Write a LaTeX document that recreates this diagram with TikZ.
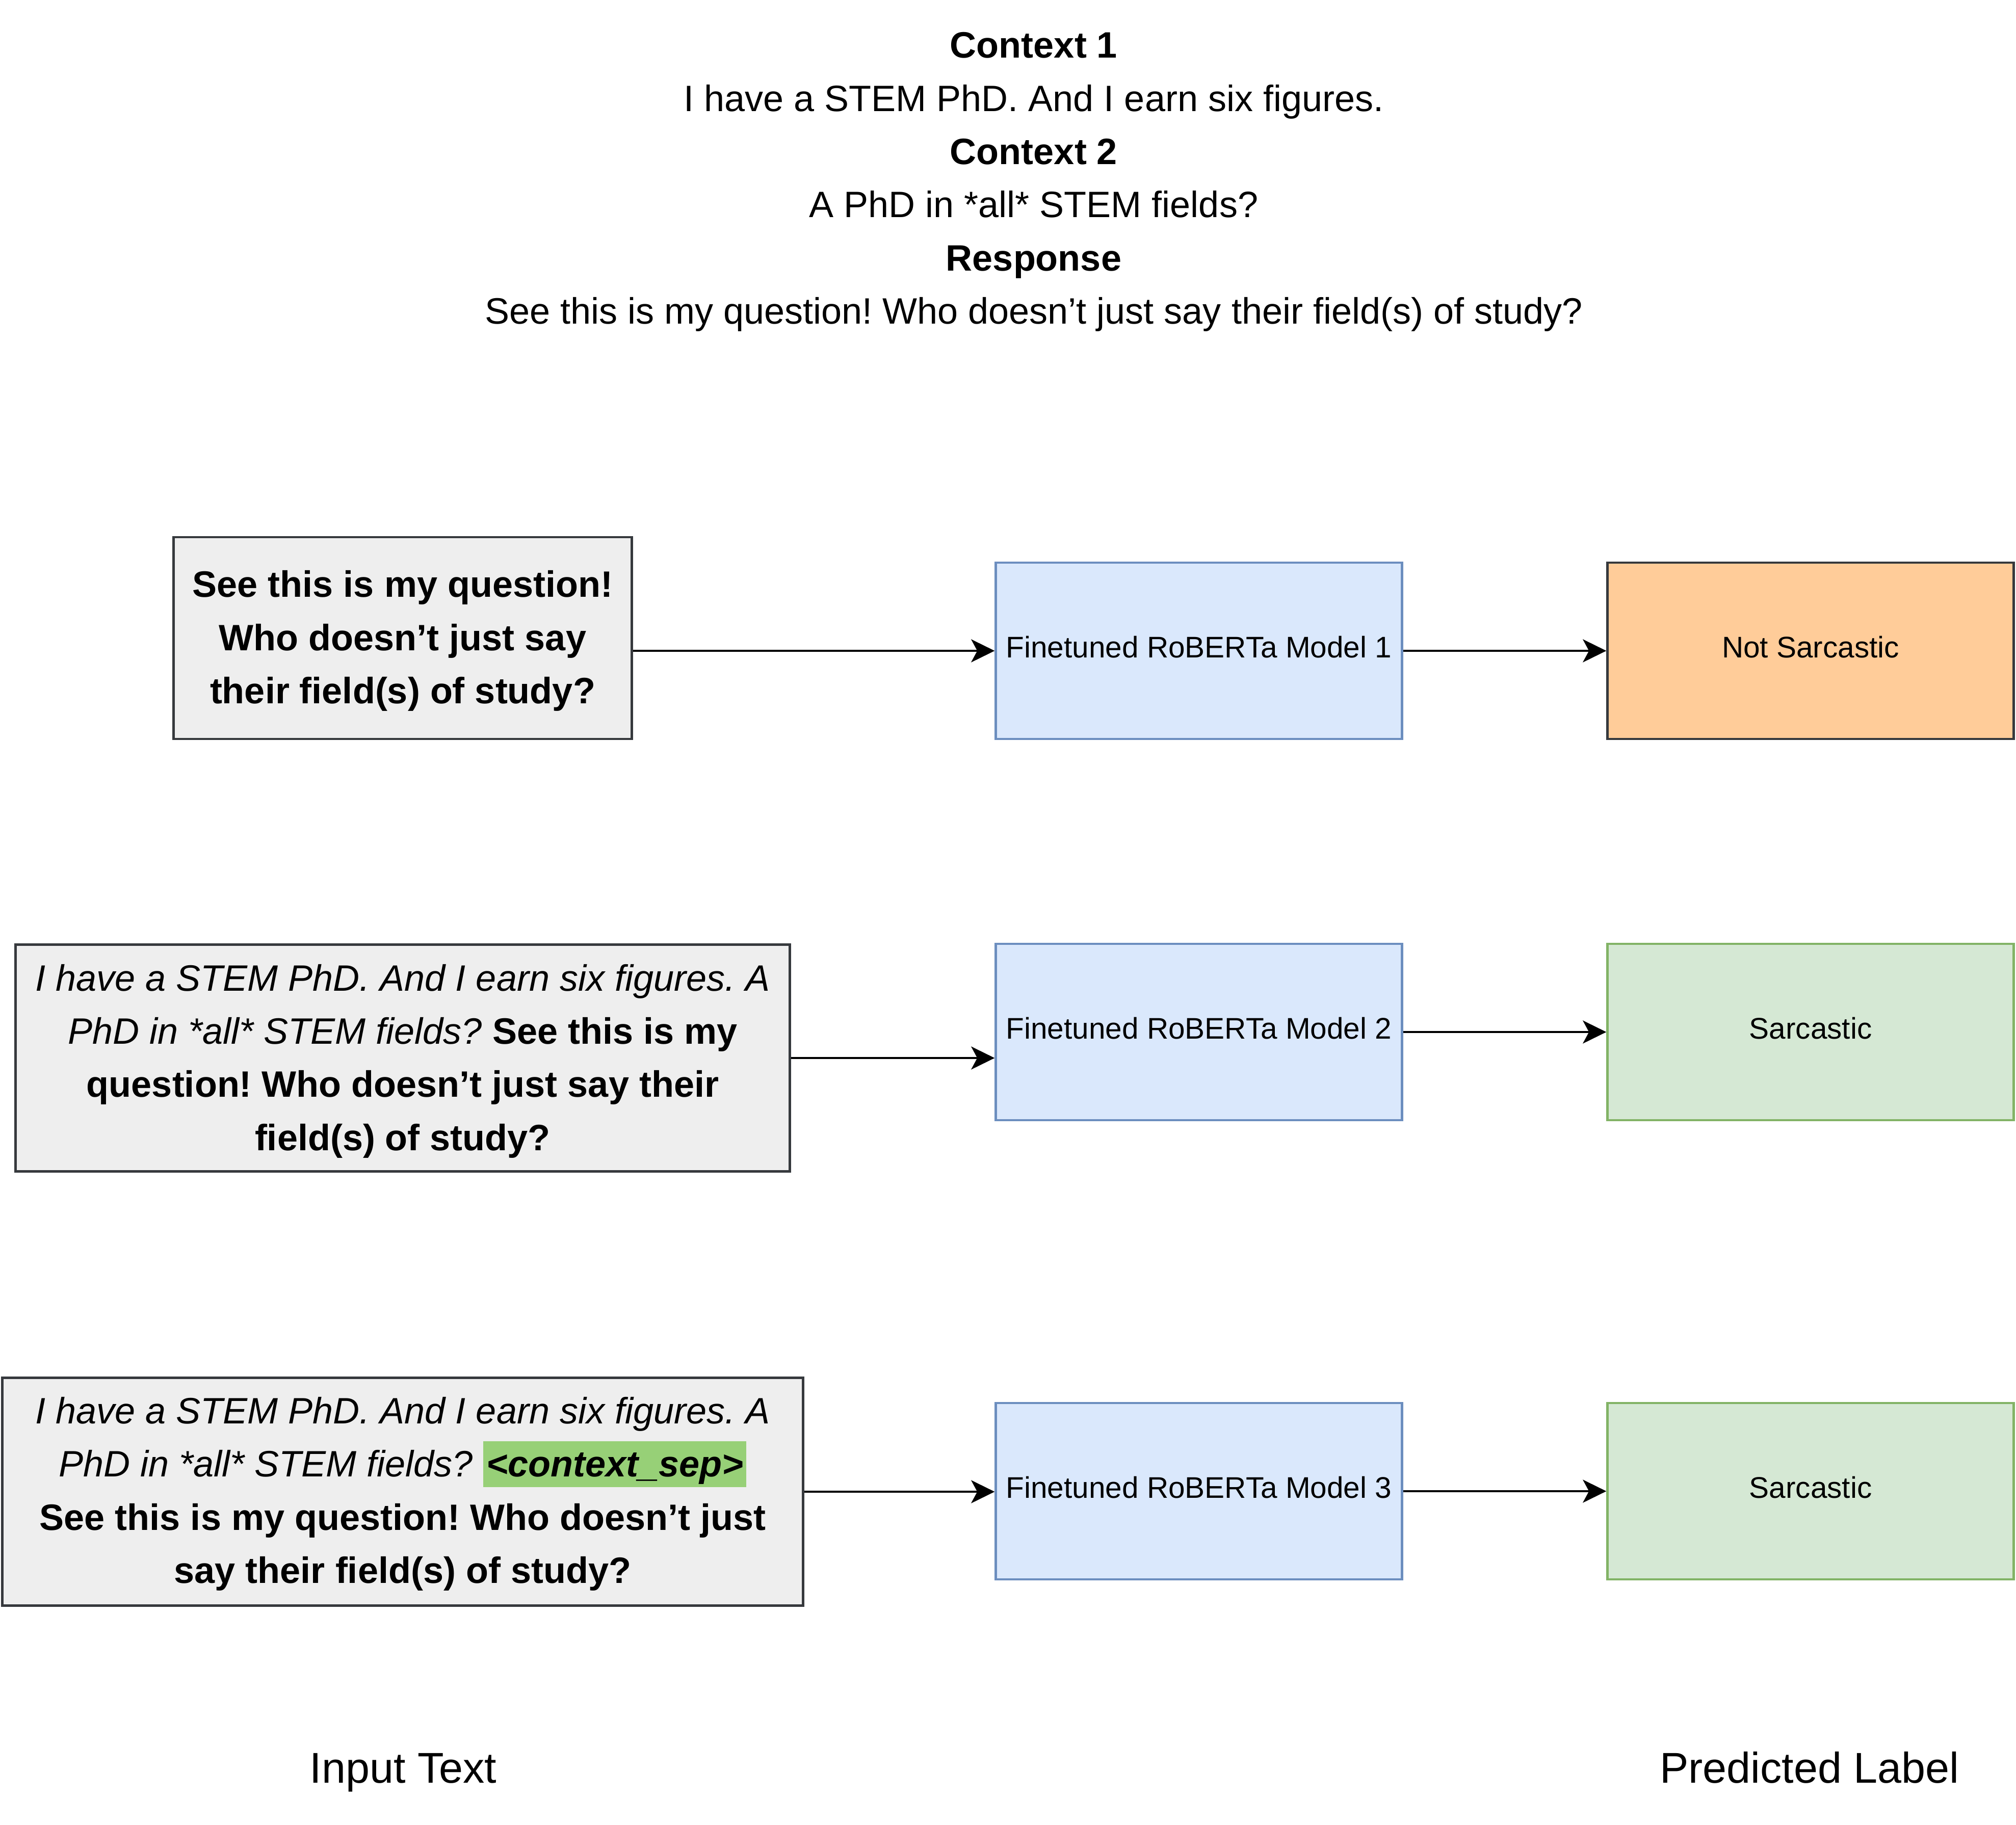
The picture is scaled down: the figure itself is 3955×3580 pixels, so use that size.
\documentclass[tikz,border=0pt]{standalone}
\usepackage{fontspec}
\setmainfont{Liberation Sans}
\usetikzlibrary{arrows.meta}
\frenchspacing
\definecolor{inbg}{HTML}{EEEEEE}
\definecolor{inline}{HTML}{36393D}
\definecolor{modbg}{HTML}{DAE8FC}
\definecolor{modline}{HTML}{6C8EBF}
\definecolor{notbg}{HTML}{FFCC99}
\definecolor{sarbg}{HTML}{D5E8D4}
\definecolor{sarline}{HTML}{82B366}
\definecolor{hl}{HTML}{97D077}
\newcommand{\hlsep}[1]{{\setlength{\fboxsep}{0pt}\colorbox{hl}{\rule[-20pt]{0pt}{90pt}\hspace{6pt}#1\hspace{6pt}}}}
\begin{document}
\begin{tikzpicture}[x=1pt,y=-1pt,
  inbox/.style={draw=inline, fill=inbg, line width=4.5pt, align=center, inner sep=0pt,
    font=\fontsize{72}{104.3}\selectfont\frenchspacing},
  modbox/.style={draw=modline, fill=modbg, line width=4.5pt, inner sep=0pt, text depth=16pt,
    minimum width=797pt, minimum height=346pt, font=\fontsize{58.5}{70}\selectfont},
  notbox/.style={draw=inline, fill=notbg, line width=4.5pt, inner sep=0pt, text depth=16pt,
    minimum width=797pt, minimum height=346pt, font=\fontsize{58.5}{70}\selectfont},
  sarbox/.style={draw=sarline, fill=sarbg, line width=4.5pt, inner sep=0pt, text depth=16pt,
    minimum width=797pt, minimum height=346pt, font=\fontsize{58.5}{70}\selectfont},
  conn/.style={line width=4.5pt, -{Stealth[length=46pt,width=45pt,inset=12pt]}},
  biglabel/.style={font=\fontsize{84.5}{100}\selectfont, inner sep=0pt, anchor=base}
]
\useasboundingbox (0,0) rectangle (3955,3580);

% title block
\node[align=center, inner sep=0pt, font=\fontsize{72}{104.4}\selectfont\frenchspacing] (title) at (2028,357)
  {\textbf{Context 1}\\
   I have a STEM PhD. And I earn six figures.\\
   \textbf{Context 2}\\
   A PhD in *all* STEM fields?\\
   \textbf{Response}\\
   See this is my question! Who doesn’t just say their field(s) of study?};

% row 1
\node[inbox, minimum width=899pt, minimum height=396pt] (in1) at (790,1252)
  {\rule{0pt}{63pt}\textbf{See this is my question!}\\
   \textbf{Who doesn’t just say}\\
   \textbf{their field(s) of study?}};
\node[modbox] (m1) at (2352,1277) {Finetuned RoBERTa Model 1};
\node[notbox] (l1) at (3552,1277) {Not Sarcastic};

% row 2
\node[inbox, minimum width=1519pt, minimum height=445pt] (in2) at (790,2076)
  {\rule{0pt}{64.5pt}\textit{I have a STEM PhD. And I earn six figures. A}\\
   \textit{PhD in *all* STEM fields?} \textbf{See this is my}\\
   \textbf{question! Who doesn’t just say their}\\
   \textbf{field(s) of study?}};
\node[modbox] (m2) at (2352,2025) {Finetuned RoBERTa Model 2};
\node[sarbox] (l2) at (3552,2025) {Sarcastic};

% row 3
\node[inbox, minimum width=1571pt, minimum height=447pt] (in3) at (790,2927)
  {\rule{0pt}{61pt}\textit{I have a STEM PhD. And I earn six figures. A}\\
   \textit{PhD in *all* STEM fields?} \hlsep{\textbf{\textit{<context\_sep>}}}\\
   \textbf{See this is my question! Who doesn’t just}\\
   \textbf{say their field(s) of study?}};
\node[modbox] (m3) at (2352,2926) {Finetuned RoBERTa Model 3};
\node[sarbox] (l3) at (3552,2926) {Sarcastic};

% connectors
\draw[conn] (m1.west -| in1.east) -- (m1.west);
\draw[conn] (m1.east) -- (l1.west);
\draw[conn] (in2.east) -- (in2.east -| m2.west);
\draw[conn] (m2.east) -- (l2.west);
\draw[conn] (in3.east) -- (in3.east -| m3.west);
\draw[conn] (m3.east) -- (l3.west);

% bottom labels
\node[biglabel] (inlab) at (791,3498) {Input Text};
\node[biglabel] (predlab) at (3550,3498) {Predicted Label};
\end{tikzpicture}
\end{document}
